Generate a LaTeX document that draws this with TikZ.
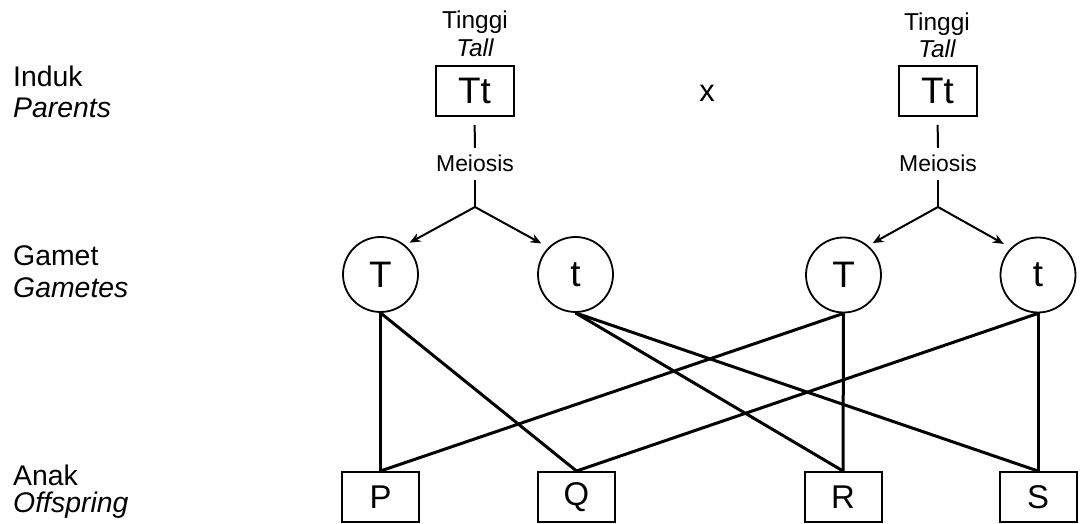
\documentclass[tikz,border=0pt]{standalone}
\usepackage{fontspec}
\setmainfont{Liberation Sans}
\usetikzlibrary{arrows.meta}
\begin{document}
\begin{tikzpicture}[x=1bp,y=-1bp,
  lbl/.style={inner sep=0pt,anchor=base west,font=\fontsize{28.5}{32}\selectfont},
  toplbl/.style={inner sep=0pt,anchor=base,font=\fontsize{24.5}{28}\selectfont},
  pbox/.style={draw,line width=2bp,minimum width=78bp,minimum height=50bp,inner sep=0pt,font=\fontsize{37}{40}\selectfont},
  obox/.style={draw,line width=2bp,minimum width=77bp,minimum height=50bp,inner sep=0pt,font=\fontsize{33}{36}\selectfont},
  gam/.style={draw,circle,line width=1.8bp,minimum size=75bp,inner sep=0pt,font=\fontsize{37}{40}\selectfont},
  mei/.style={inner xsep=0pt,inner ysep=8bp,text height=16bp,text depth=0pt,font=\fontsize{23}{26}\selectfont},
  stem/.style={line width=2bp},
  arr/.style={line width=2bp,-{Stealth[length=11bp,width=9bp]}},
  link/.style={line width=3bp}
]
\useasboundingbox (0,0) rectangle (1080,524);
% left labels
\node[lbl] (induk) at (13,87) {Induk};
\node[lbl] (parents) at (13,118) {\itshape Parents};
\node[lbl] (gamet) at (13,266) {Gamet};
\node[lbl] (gametes) at (13,298) {\itshape Gametes};
\node[lbl] (anak) at (13,485) {Anak};
\node[lbl] (offspring) at (13,512) {\itshape Offspring};
% parents
\node[toplbl] (ting1) at (475,29) {Tinggi};
\node[toplbl] (tall1) at (475,57) {\itshape Tall};
\node[toplbl] (ting2) at (937,31) {Tinggi};
\node[toplbl] (tall2) at (937,58) {\itshape Tall};
\node[pbox] (tt1) at (474.5,91) {Tt};
\node[pbox] (tt2) at (937.5,91) {Tt};
\node[inner sep=0pt,font=\fontsize{31}{34}\selectfont] (cross) at (707,93) {x};
% meiosis
\node[mei] (mei1) at (475,164) {Meiosis};
\node[mei] (mei2) at (938,164) {Meiosis};
\coordinate (b1) at (475,207);
\coordinate (b2) at (938,207);
% gametes
\node[gam] (T1) at (380.5,274.5) {T};
\node[gam] (t1) at (575.5,274.5) {t};
\node[gam] (T2) at (843.5,275) {T};
\node[gam] (t2) at (1038,275) {t};
% offspring
\node[obox] (P) at (380.5,497) {P};
\node[obox] (Q) at (576.5,497) {Q};
\node[obox] (R) at (843,497) {R};
\node[obox] (S) at (1038,497) {S};
% meiosis connectors
\draw[stem,shorten <=8bp] (tt1.south) -- (mei1.north);
\draw[stem] (mei1.south) -- (b1);
\draw[stem,shorten <=8bp] (tt2.south) -- (mei2.north);
\draw[stem] (mei2.south) -- (b2);
\draw[arr,shorten >=5bp] (b1) -- (T1.50);
\draw[arr,shorten >=8bp] (b1) -- (t1.135);
\draw[arr,shorten >=5bp] (b2) -- (T2.50);
\draw[arr,shorten >=8bp] (b2) -- (t2.135);
% crosses
\draw[link] (T1.south) -- (P.north);
\draw[link] (T1.south) -- (Q.north);
\draw[link] (t1.south) -- (R.north);
\draw[link] (t1.south) -- (S.north);
\draw[link] (T2.south) -- (P.north);
\draw[link] (T2.south) -- (R.north);
\draw[link] (t2.south) -- (Q.north);
\draw[link] (t2.south) -- (S.north);
\end{tikzpicture}
\end{document}
